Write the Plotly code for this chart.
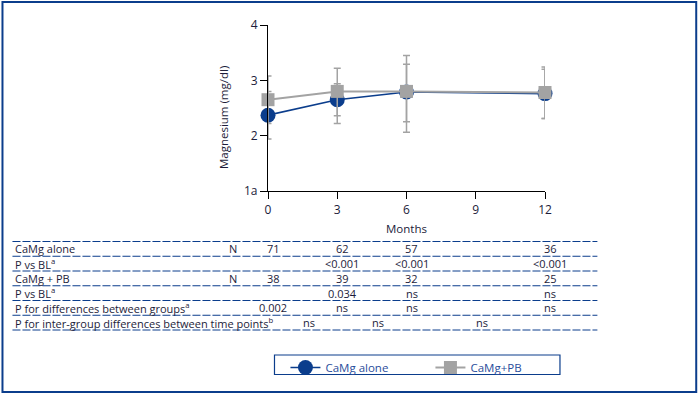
import plotly.graph_objects as go

# ---------------- data ----------------
months = [0, 3, 6, 12]
alone = [2.37, 2.65, 2.79, 2.76]
alone_plus = [0.43, 0.29, 0.50, 0.44]
alone_minus = [0.43, 0.29, 0.54, 0.45]
pb = [2.65, 2.80, 2.80, 2.78]
pb_plus = [0.43, 0.42, 0.65, 0.46]
pb_minus = [0.43, 0.58, 0.74, 0.47]

y_tickvals = [1, 2, 3, 4]
y_ticktext = ["1a", "2", "3", "4"]
x_tickvals = [0, 3, 6, 9, 12]

row_labels = ["CaMg alone", "P vs BL<sup>a</sup>", "CaMg + PB", "P vs BL<sup>a</sup>",
              "P for differences between groups<sup>a</sup>",
              "P for inter-group differences between time points<sup>b</sup>"]
row_n = ["N", "", "N", "", "", ""]
row_values = [
    ["71", "62", "57", "36"],
    ["", "&lt;0.001", "&lt;0.001", "&lt;0.001"],
    ["38", "39", "32", "25"],
    ["", "0.034", "ns", "ns"],
    ["0.002", "ns", "ns", "ns"],
]
between_x = [1.5, 4.5, 9]
between_vals = ["ns", "ns", "ns"]

# ---------------- style / layout ----------------
W, H = 700, 396
L, R, T, B = 268, 154.5, 25, 205
PW, PH = W - L - R, H - T - B
BLUE = "#0b3d8c"
GRAY = "#a3a3a3"
TXT = "#1c1c3a"
FONT = "Open Sans"


def fx(px):
    return (px - L) / PW


def fy(py):
    return (H - B - py) / PH


fig = go.Figure()
fig.add_trace(go.Scatter(
    x=months, y=alone, name="CaMg alone", mode="lines+markers",
    line=dict(color=BLUE, width=1.6),
    marker=dict(symbol="circle", size=15, color=BLUE),
    error_y=dict(type="data", symmetric=False, array=alone_plus, arrayminus=alone_minus,
                 color=GRAY, thickness=1.5, width=3.5),
    cliponaxis=False,
))
fig.add_trace(go.Scatter(
    x=months, y=pb, name="CaMg+PB", mode="lines+markers",
    line=dict(color=GRAY, width=2),
    marker=dict(symbol="square", size=13, color=GRAY),
    error_y=dict(type="data", symmetric=False, array=pb_plus, arrayminus=pb_minus,
                 color=GRAY, thickness=1.5, width=3.5),
    cliponaxis=False,
))

annotations = []
shapes = []

# y axis title
annotations.append(dict(text="Magnesium (mg/dl)", xref="paper", yref="paper",
                        x=fx(223), y=fy(118), textangle=-90, showarrow=False,
                        xanchor="center", yanchor="middle",
                        font=dict(family=FONT, size=11.5, color=TXT)))

# table
line0 = 241.5
step = 14.75
for i in range(7):
    py = line0 + step * i
    shapes.append(dict(type="line", xref="paper", yref="paper",
                       x0=fx(12), x1=fx(598), y0=fy(py), y1=fy(py),
                       line=dict(color=BLUE, width=1, dash="8px,2px")))

tfont = dict(family=FONT, size=11, color=TXT)
for i, lab in enumerate(row_labels):
    yc = fy(line0 + step * i + step / 2)
    annotations.append(dict(text=lab, xref="paper", yref="paper", x=fx(13), y=yc,
                            xanchor="left", yanchor="middle", showarrow=False, font=tfont))
    if row_n[i]:
        annotations.append(dict(text=row_n[i], xref="paper", yref="paper", x=fx(233), y=yc,
                                xanchor="center", yanchor="middle", showarrow=False, font=tfont))
    if i < len(row_values):
        for m, v in zip(months, row_values[i]):
            if v:
                annotations.append(dict(text=v, xref="x", yref="paper", x=m, y=yc, xshift=5,
                                        xanchor="center", yanchor="middle", showarrow=False,
                                        font=tfont))
    else:
        for m, v in zip(between_x, between_vals):
            annotations.append(dict(text=v, xref="x", yref="paper", x=m, y=yc, xshift=6,
                                    xanchor="center", yanchor="middle", showarrow=False,
                                    font=tfont))

# legend frame
shapes.append(dict(type="rect", xref="paper", yref="paper",
                   x0=fx(274.5), x1=fx(560.5), y0=fy(374.5), y1=fy(355),
                   line=dict(color=BLUE, width=1.2)))

# outer frame
shapes.append(dict(type="rect", xref="paper", yref="paper",
                   x0=fx(2), x1=fx(697), y0=fy(392), y1=fy(2),
                   line=dict(color=BLUE, width=2)))

fig.update_layout(
    width=W, height=H,
    margin=dict(l=L, r=R, t=T, b=B, pad=0),
    paper_bgcolor="white", plot_bgcolor="white",
    font=dict(family=FONT, size=11, color=TXT),
    showlegend=True,
    legend=dict(orientation="h", x=fx(576), y=fy(353), xanchor="right", yanchor="top",
                borderwidth=0, bgcolor="rgba(0,0,0,0)",
                font=dict(family=FONT, size=11.5, color="#2a4d9b"),
                entrywidth=100, entrywidthmode="pixels", itemwidth=30),
    annotations=annotations,
    shapes=shapes,
    xaxis=dict(range=[0, 12], tickvals=x_tickvals, showgrid=False, zeroline=False,
               showline=True, linecolor="black", linewidth=1.2,
               ticks="outside", ticklen=7, tickcolor="black", tickwidth=1.2,
               tickfont=dict(family=FONT, size=12, color=TXT),
               title=dict(text="Months", standoff=8, font=dict(family=FONT, size=11.5, color=TXT))),
    yaxis=dict(range=[1, 4], tickvals=y_tickvals, ticktext=y_ticktext, showgrid=False,
               zeroline=False, showline=True, linecolor="black", linewidth=1.2,
               ticks="outside", ticklen=7, tickcolor="black", tickwidth=1.2,
               tickfont=dict(family=FONT, size=12, color=TXT)),
)

fig.write_html("out.html", config={"displayModeBar": False},
               post_script="document.body.style.margin='0px';document.body.style.overflow='hidden';")
